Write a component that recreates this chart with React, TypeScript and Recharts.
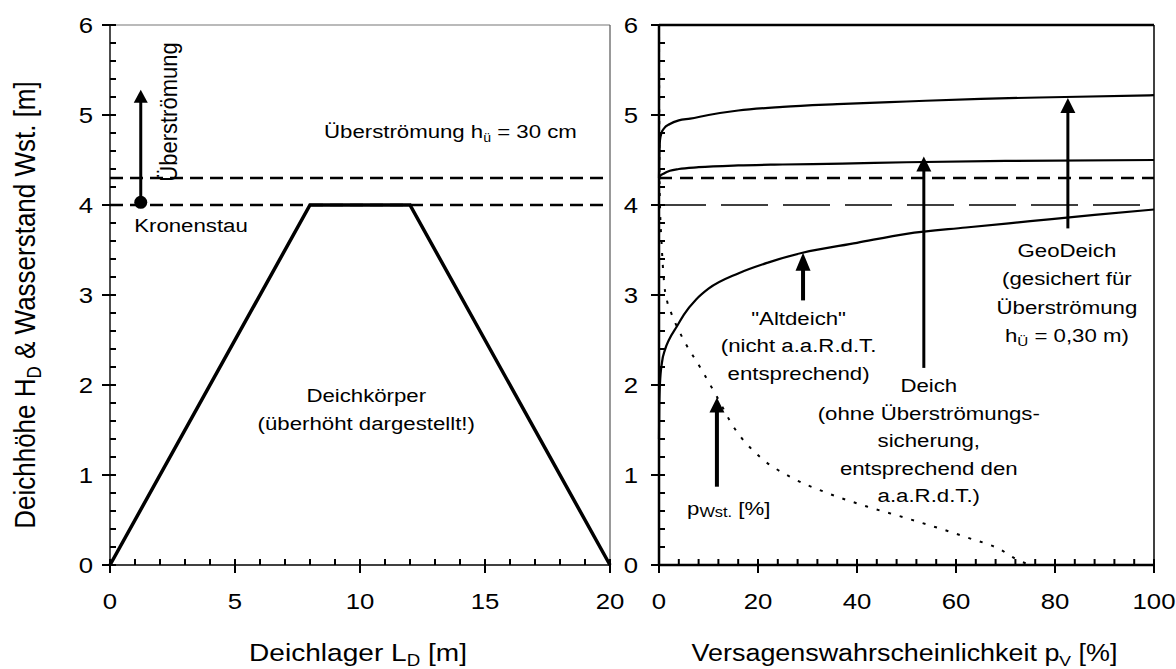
import React from 'react';
import { LineChart, Line, XAxis, YAxis, ReferenceLine, ReferenceDot, Scatter } from 'recharts';

const FONT = "'Liberation Sans', Arial, Helvetica, sans-serif";
const SX = 1.17; // the source figure is a bit wider than tall

// left panel: dike cross-section
const profileX = [0, 8, 12, 20];
const profileY = [0, 4, 4, 0];
const crestLevel = 4.0;
const overflowLevel = 4.3;

const leftXTicks = [0, 5, 10, 15, 20];
const leftXAll = [0, 1, 2, 3, 4, 5, 6, 7, 8, 9, 10, 11, 12, 13, 14, 15, 16, 17, 18, 19, 20];
const yTicks = [0, 1, 2, 3, 4, 5, 6];
const yAll = [0, 0.2, 0.4, 0.6, 0.8, 1, 1.2, 1.4, 1.6, 1.8, 2, 2.2, 2.4, 2.6, 2.8, 3, 3.2, 3.4, 3.6, 3.8, 4,
  4.2, 4.4, 4.6, 4.8, 5, 5.2, 5.4, 5.6, 5.8, 6];

// right panel: failure probability curves
const rightXTicks = [0, 20, 40, 60, 80, 100];
const rightXAll = [0, 4, 8, 12, 16, 20, 24, 28, 32, 36, 40, 44, 48, 52, 56, 60, 64, 68, 72, 76, 80, 84, 88, 92, 96, 100];

const geoX = [0, 0.05, 0.2, 0.5, 1, 2.2, 4, 6.3, 10, 16, 25, 36, 50, 65, 82, 100];
const geoY = [4.3, 4.5, 4.72, 4.8, 4.85, 4.9, 4.94, 4.96, 5.0, 5.05, 5.09, 5.12, 5.15, 5.18, 5.2, 5.22];

const deichX = [0, 0.2, 1, 2.2, 4, 8, 16, 25, 37, 50, 70, 100];
const deichY = [4.28, 4.32, 4.35, 4.38, 4.4, 4.42, 4.44, 4.45, 4.46, 4.475, 4.49, 4.5];

const altX = [0, 0.05, 0.2, 0.6, 1.2, 2, 3.6, 5, 7.5, 10, 16, 22, 29, 40, 50, 62, 75, 88, 100];
const altY = [1.4, 1.75, 2.02, 2.25, 2.39, 2.5, 2.65, 2.78, 2.95, 3.07, 3.24, 3.36, 3.47, 3.58, 3.68, 3.75, 3.82, 3.89, 3.95];

const pwX = [0, 0.1, 0.2, 0.5, 1.2, 1.6, 2.6, 4.6, 8.6, 11.7, 15, 20.4, 26.5, 34, 42, 50, 62, 69, 72.3, 75];
const pwY = [6, 4.3, 4.0, 3.6, 3.05, 2.94, 2.78, 2.54, 2.17, 1.87, 1.54, 1.2, 0.98, 0.8, 0.65, 0.52, 0.31, 0.17, 0.06, 0];

const pts = (xs: number[], ys: number[]) => xs.map((x, i) => ({ x, y: ys[i] }));
const isMajor = (list: number[], v: number) => list.some((t) => Math.abs(t - v) < 1e-6);

function SText({ x, y, size, anchor = 'middle', rotate, sx = SX, children }: any) {
  const tr = `translate(${x},${y}) scale(${sx},1)` + (rotate ? ` rotate(${rotate})` : '');
  return (
    <text transform={tr} x={0} y={0} fontSize={size} textAnchor={anchor} fontFamily={FONT} fill="#000">
      {children}
    </text>
  );
}

// tick labels only for the major values
const yTick = (gap: number) => (p: any) => {
  const v = p.payload.value;
  if (!isMajor(yTicks, v)) return <g />;
  return <SText x={p.x - gap} y={p.y + 0.355 * 22} size={22} anchor="end">{v}</SText>;
};
const xTick = (majors: number[]) => (p: any) => {
  const v = p.payload.value;
  if (!isMajor(majors, v)) return <g />;
  return <SText x={p.x} y={p.y + 28 + 0.71 * 22} size={22}>{v}</SText>;
};

// tick marks as scatter points on the axes: minors point inward, majors also reach outward
const yMarks = yAll.map((v) => ({ x: 0, y: v, major: isMajor(yTicks, v) }));
const xMarks = (all: number[], majors: number[]) => all.map((v) => ({ x: v, y: 0, major: isMajor(majors, v) }));

const hMark = (p: any) => {
  if (p.cx == null || p.cy == null) return <g />;
  const out = p.payload && p.payload.major ? 8 : 0;
  return <path d={`M${p.cx - out},${p.cy}H${p.cx + 6}`} stroke="#000" strokeWidth={2} fill="none" />;
};
const vMark = (p: any) => {
  if (p.cx == null || p.cy == null) return <g />;
  const out = p.payload && p.payload.major ? 8 : 0;
  return <path d={`M${p.cx},${p.cy - 6}V${p.cy + out}`} stroke="#000" strokeWidth={2} fill="none" />;
};

const note = (lines: React.ReactNode[], size = 19, lh = 27.5, anchor = 'middle', rotate?: number, sx?: number) =>
  (p: any) => (
    <g>
      {lines.map((l, i) => (
        <SText key={i} x={p.cx} y={p.cy + i * lh} size={size} anchor={anchor} rotate={rotate} sx={sx}>{l}</SText>
      ))}
    </g>
  );

const arrow = (w: number, head = 15, headW = 14) => (p: any) => {
  const { x1, y1, x2, y2 } = p;
  return (
    <g>
      <line x1={x1} y1={y1} x2={x2} y2={y2 + head * 0.8} stroke="#000" strokeWidth={w} />
      <polygon points={`${x2},${y2} ${x2 - headW / 2},${y2 + head} ${x2 + headW / 2},${y2 + head}`} fill="#000" />
    </g>
  );
};

const leftXTitle = (props: any) => {
  const vb = props.viewBox || { x: 110, y: 565, width: 500 };
  return (
    <SText x={vb.x + vb.width / 2 - 2} y={vb.y + 96} size={24}>
      Deichlager L<tspan fontSize={16} dy={5}>D</tspan><tspan dy={-5}> [m]</tspan>
    </SText>
  );
};
const rightXTitle = (props: any) => {
  const vb = props.viewBox || { x: 659, y: 565, width: 495 };
  return (
    <SText x={vb.x + vb.width / 2 - 2} y={vb.y + 96} size={23}>
      Versagenswahrscheinlichkeit p<tspan fontSize={15} dy={5}>V</tspan><tspan dy={-5}> [%]</tspan>
    </SText>
  );
};
const yTitle = (props: any) => {
  const vb = props.viewBox || { x: 0, y: 25, width: 110, height: 540 };
  return (
    <SText x={vb.x + 35} y={vb.y + vb.height / 2 + 10} size={26} rotate={-90}>
      Deichhöhe H<tspan fontSize={17} dy={5}>D</tspan><tspan dy={-5}> &amp; Wasserstand Wst. [m]</tspan>
    </SText>
  );
};

function LeftPanel() {
  return (
    <LineChart width={640} height={669} margin={{ top: 25, right: 30, bottom: 0, left: 0 }}>
      <XAxis dataKey="x" type="number" domain={[0, 20]} ticks={leftXAll} interval={0} height={104}
        tickSize={0} tickMargin={0} tick={xTick(leftXTicks)} axisLine={{ stroke: '#000', strokeWidth: 1.6 }}
        tickLine={false} label={leftXTitle} />
      <YAxis dataKey="y" type="number" domain={[0, 6]} ticks={yAll} interval={0} width={110} tickSize={0} tickMargin={0}
        tick={yTick(17)} axisLine={{ stroke: '#000', strokeWidth: 1.4 }} tickLine={false} label={yTitle} />
      <ReferenceLine y={6} stroke="#777" strokeWidth={1.2} />
      <ReferenceLine x={20} stroke="#555" strokeWidth={1.2} />
      <ReferenceLine y={overflowLevel} stroke="#000" strokeWidth={2.5} strokeDasharray="13 7" />
      <ReferenceLine y={crestLevel} stroke="#000" strokeWidth={2.5} strokeDasharray="13 7" />
      <Line data={pts(profileX, profileY)} dataKey="y" type="linear" stroke="#000" strokeWidth={3.5}
        dot={false} activeDot={false} isAnimationActive={false} />
      <Scatter data={yMarks} dataKey="y" shape={hMark} isAnimationActive={false} />
      <Scatter data={xMarks(leftXAll, leftXTicks)} dataKey="y" shape={vMark} isAnimationActive={false} />
      <ReferenceLine segment={[{ x: 1.23, y: 4.03 }, { x: 1.23, y: 5.28 }]} shape={arrow(3, 13, 14)} />
      <ReferenceDot x={1.23} y={4.03} r={6.5} fill="#000" stroke="none" />
      <ReferenceDot x={2.66} y={5.033} r={0} shape={note(['Überströmung'], 22, 0, 'middle', -90, 1.1)} />
      <ReferenceDot x={3.24} y={3.7} r={0} shape={note(['Kronenstau'])} />
      <ReferenceDot x={8.56} y={4.744} r={0}
        shape={note([<>Überströmung h<tspan fontSize={12} dy={4}>ü</tspan><tspan dy={-4}> = 30 cm</tspan></>], 19, 0, 'start')} />
      <ReferenceDot x={10.25} y={1.811} r={0} shape={note(['Deichkörper', '(überhöht dargestellt!)'], 19, 28)} />
    </LineChart>
  );
}

function RightPanel() {
  return (
    <LineChart width={576} height={669} margin={{ top: 25, right: 22, bottom: 0, left: 0 }}>
      <XAxis dataKey="x" type="number" domain={[0, 100]} ticks={rightXAll} interval={0} height={104}
        tickSize={0} tickMargin={0} tick={xTick(rightXTicks)} axisLine={{ stroke: '#000', strokeWidth: 2.5 }}
        tickLine={false} label={rightXTitle} />
      <YAxis dataKey="y" type="number" domain={[0, 6]} ticks={yAll} interval={0} width={59} tickSize={0} tickMargin={0}
        tick={yTick(21)} axisLine={{ stroke: '#000', strokeWidth: 2.5 }} tickLine={false} />
      <ReferenceLine y={6} stroke="#000" strokeWidth={2.5} />
      <ReferenceLine x={100} stroke="#000" strokeWidth={1.5} />
      <ReferenceLine y={overflowLevel} stroke="#000" strokeWidth={2.5} strokeDasharray="13 8" />
      <ReferenceLine y={crestLevel} stroke="#000" strokeWidth={1.4} strokeDasharray="47 15" />
      <Line data={pts(geoX, geoY)} dataKey="y" type="monotone" stroke="#000" strokeWidth={2.2}
        dot={false} activeDot={false} isAnimationActive={false} />
      <Line data={pts(deichX, deichY)} dataKey="y" type="monotone" stroke="#000" strokeWidth={2.2}
        dot={false} activeDot={false} isAnimationActive={false} />
      <Line data={pts(altX, altY)} dataKey="y" type="monotone" stroke="#000" strokeWidth={2.2}
        dot={false} activeDot={false} isAnimationActive={false} />
      <Line data={pts(pwX, pwY)} dataKey="y" type="monotone" stroke="#000" strokeWidth={2} strokeDasharray="3 9"
        dot={false} activeDot={false} isAnimationActive={false} />
      <Scatter data={yMarks} dataKey="y" shape={hMark} isAnimationActive={false} />
      <Scatter data={xMarks(rightXAll, rightXTicks)} dataKey="y" shape={vMark} isAnimationActive={false} />
      <ReferenceLine segment={[{ x: 29.1, y: 2.94 }, { x: 29.1, y: 3.47 }]} shape={arrow(4, 18, 15)} />
      <ReferenceLine segment={[{ x: 11.7, y: 0.87 }, { x: 11.7, y: 1.86 }]} shape={arrow(4, 15, 15)} />
      <ReferenceLine segment={[{ x: 53.5, y: 2.19 }, { x: 53.5, y: 4.54 }]} shape={arrow(3, 15, 15)} />
      <ReferenceLine segment={[{ x: 82.6, y: 3.74 }, { x: 82.6, y: 5.19 }]} shape={arrow(3, 15, 15)} />
      <ReferenceDot x={28.2} y={2.667} r={0} shape={note(['"Altdeich"', '(nicht a.a.R.d.T.', 'entsprechend)'])} />
      <ReferenceDot x={54.5} y={1.922} r={0}
        shape={note(['Deich', '(ohne Überströmungs-', 'sicherung,', 'entsprechend den', 'a.a.R.d.T.)'])} />
      <ReferenceDot x={82.4} y={3.422} r={0}
        shape={note(['GeoDeich', '(gesichert für', 'Überströmung',
          <>h<tspan fontSize={13} dy={4}>Ü</tspan><tspan dy={-4}> = 0,30 m)</tspan></>], 19, 28.3)} />
      <ReferenceDot x={5.66} y={0.556} r={0}
        shape={note([<>p<tspan fontSize={14} dy={2}>Wst.</tspan><tspan dy={-2}> [%]</tspan></>], 19, 0, 'start')} />
    </LineChart>
  );
}

export default function App() {
  return (
    <div style={{ position: 'absolute', left: 0, top: 0, width: 1176, height: 669, background: '#fff' }}>
      <div style={{ position: 'absolute', left: 0, top: 0 }}>
        <LeftPanel />
      </div>
      <div style={{ position: 'absolute', left: 600, top: 0 }}>
        <RightPanel />
      </div>
    </div>
  );
}
